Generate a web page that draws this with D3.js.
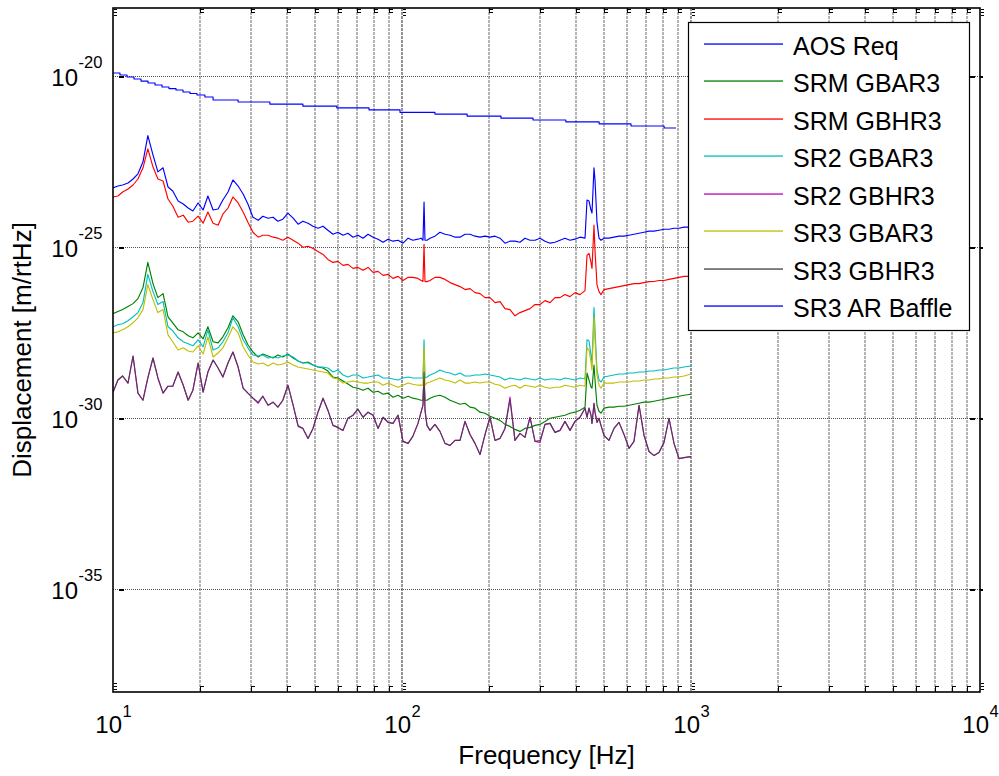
<!DOCTYPE html>
<html>
<head>
<meta charset="utf-8">
<script src="https://cdn.jsdelivr.net/npm/d3@7"></script>
<style>
  html, body { margin: 0; padding: 0; background: #fff; }
  svg { display: block; font-family: "Liberation Sans", Arial, sans-serif; }
</style>
</head>
<body>
<svg id="chart" width="999" height="776"></svg>
<script>
// ---- Data -----------------------------------------------------------------
// Requirement curve (stepped), frequency in Hz
const aosFreq = [10, 10.57, 11.18, 11.82, 12.5, 13.22, 13.98, 14.78, 15.62, 16.52,
  17.47, 18.47, 19.53, 20.8, 22.2, 27.1, 34.9, 45.4, 59.5, 76.9,
  98.4, 130, 168, 220, 284, 369, 481, 620, 807, 888];
const aosReq = [1.26e-20, 1.10e-20, 9.6e-21, 8.4e-21, 7.3e-21, 6.4e-21, 5.6e-21, 4.9e-21, 4.4e-21, 4.0e-21,
  3.5e-21, 3.16e-21, 2.86e-21, 2.5e-21, 2.04e-21, 1.78e-21, 1.55e-21, 1.35e-21, 1.2e-21, 1.05e-21,
  8.9e-22, 7.9e-22, 6.9e-22, 6.0e-22, 5.3e-22, 4.7e-22, 4.1e-22, 3.55e-22, 3.1e-22, 3.1e-22];

// Shared frequency grid (Hz) for the scattered-light spectra
const freq = [
  10.0, 10.4, 10.8, 11.27, 11.73, 12.2, 12.7, 13.2, 13.75, 14.3,
  14.9, 15.5, 16.1, 16.8, 17.5, 18.2, 18.9, 19.7, 20.5, 21.3,
  22.2, 23.1, 24.0, 25.0, 26.0, 27.1, 28.2, 29.3, 30.5, 31.8,
  33.0, 34.4, 35.8, 37.2, 38.7, 40.3, 42.0, 43.7, 45.4, 47.3,
  49.2, 51.2, 53.3, 55.4, 57.7, 60.0, 62.5, 65.0, 67.7, 70.4,
  73.3, 76.3, 79.4, 82.6, 86.0, 89.5, 93.1, 96.9, 100.8, 105,
  109, 113.6, 116.4, 118.2, 119.2, 120.1, 122, 125, 130, 135.3,
  140.9, 146.6, 152.6, 158.8, 165.2, 171.9, 178.9, 186.2, 193.8, 201.6,
  209.8, 218.3, 227.2, 236.4, 246, 256, 266.4, 277.3, 288.6, 300.3,
  312.5, 325.2, 338.4, 352.2, 366.4, 381.3, 396.8, 413, 429.8, 436.7,
  443.7, 450.8, 454.4, 461.7, 465.4, 472.8, 480.4, 488.1, 500, 520,
  541.5, 563.5, 586.4, 610.2, 635, 660.9, 687.8, 715.7, 744.7, 775,
  806.5, 839.3, 873.4, 908.8, 945.8, 1000
];

const srmGbar3 = [
  1.16e-27, 1.33e-27, 1.52e-27, 1.86e-27, 2.27e-27, 3.18e-27, 6.68e-27, 3.64e-26, 8.74e-27, 3.40e-27,
  4.46e-27, 9.35e-28, 6.24e-28, 3.90e-28, 3.40e-28, 2.60e-28, 2.27e-28, 3.18e-28, 2.13e-28, 4.77e-28,
  1.74e-28, 1.62e-28, 2.43e-28, 4.46e-28, 1.0e-27, 6.68e-28, 2.78e-28, 1.42e-28, 8.74e-29, 6.24e-29,
  7.64e-29, 6.68e-29, 5.84e-29, 7.14e-29, 6.24e-29, 7.64e-29, 5.84e-29, 4.77e-29, 4.17e-29, 4.46e-29,
  3.64e-29, 3.18e-29, 2.98e-29, 2.43e-29, 1.62e-29, 1.52e-29, 1.24e-29, 1.01e-29, 8.17e-30, 7.64e-30,
  6.68e-30, 7.64e-30, 5.84e-30, 6.24e-30, 5.10e-30, 5.46e-30, 4.17e-30, 4.77e-30, 3.90e-30, 4.46e-30,
  3.90e-30, 3.64e-30, 3.40e-30, 3.40e-30, 1.74e-29, 3.40e-30, 3.40e-30, 3.90e-30, 4.46e-30, 4.77e-30,
  4.17e-30, 3.40e-30, 2.98e-30, 2.60e-30, 2.78e-30, 2.13e-30, 1.99e-30, 1.52e-30, 1.42e-30, 1.16e-30,
  1.01e-30, 8.74e-31, 6.68e-31, 5.84e-31, 4.77e-31, 4.17e-31, 5.10e-31, 5.46e-31, 6.24e-31, 6.68e-31,
  8.17e-31, 1.01e-30, 1.08e-30, 1.16e-30, 1.24e-30, 1.42e-30, 1.52e-30, 1.74e-30, 2.13e-30, 2.13e-29,
  1.33e-29, 8.17e-30, 7.64e-30, 3.64e-29, 1.33e-29, 2.43e-30, 1.62e-30, 1.42e-30, 1.99e-30, 2.13e-30,
  2.13e-30, 2.27e-30, 2.27e-30, 2.43e-30, 2.60e-30, 2.78e-30, 2.98e-30, 2.98e-30, 3.18e-30, 3.40e-30,
  3.64e-30, 3.90e-30, 4.17e-30, 4.46e-30, 4.77e-30, 5.10e-30
];

const srmGbhr3 = [
  2.98e-24, 3.18e-24, 4.17e-24, 5.10e-24, 6.68e-24, 1.0e-23, 2.13e-23, 7.64e-23, 2.27e-23, 1.0e-23,
  8.74e-24, 2.60e-24, 1.62e-24, 7.64e-25, 8.74e-25, 5.46e-25, 5.84e-25, 8.17e-25, 5.10e-25, 1.08e-24,
  5.10e-25, 4.46e-25, 9.35e-25, 1.42e-24, 2.98e-24, 1.99e-24, 1.08e-24, 5.46e-25, 2.78e-25, 1.99e-25,
  2.27e-25, 2.27e-25, 1.99e-25, 1.86e-25, 1.62e-25, 1.99e-25, 1.62e-25, 1.33e-25, 1.01e-25, 1.08e-25,
  9.35e-26, 7.64e-26, 6.24e-26, 4.46e-26, 3.64e-26, 3.90e-26, 2.98e-26, 3.18e-26, 2.43e-26, 2.60e-26,
  2.13e-26, 2.60e-26, 1.86e-26, 1.99e-26, 1.52e-26, 1.62e-26, 1.24e-26, 1.42e-26, 1.08e-26, 1.33e-26,
  1.33e-26, 1.24e-26, 1.08e-26, 1.01e-26, 1.24e-25, 1.0e-26, 1.0e-26, 1.08e-26, 1.33e-26, 1.33e-26,
  1.16e-26, 9.35e-27, 8.17e-27, 7.14e-27, 5.84e-27, 6.24e-27, 4.77e-27, 4.46e-27, 3.40e-27, 3.40e-27,
  2.43e-27, 2.60e-27, 1.62e-27, 1.52e-27, 1.0e-27, 1.24e-27, 1.42e-27, 1.62e-27, 2.13e-27, 2.13e-27,
  2.78e-27, 2.43e-27, 3.40e-27, 3.40e-27, 4.17e-27, 3.64e-27, 4.77e-27, 4.17e-27, 5.46e-27, 5.84e-26,
  6.68e-26, 3.64e-26, 2.43e-26, 4.46e-25, 8.17e-26, 8.17e-27, 5.10e-27, 4.17e-27, 5.84e-27, 6.24e-27,
  6.68e-27, 7.14e-27, 7.64e-27, 8.17e-27, 8.74e-27, 8.74e-27, 9.35e-27, 1.0e-26, 1.01e-26, 1.08e-26,
  1.08e-26, 1.16e-26, 1.24e-26, 1.33e-26, 1.42e-26, 1.42e-26
];

const sr2Gbar3 = [
  4.77e-28, 5.46e-28, 5.84e-28, 7.14e-28, 9.35e-28, 1.24e-27, 2.43e-27, 1.62e-26, 5.10e-27, 2.13e-27,
  2.60e-27, 4.77e-28, 3.64e-28, 2.27e-28, 1.74e-28, 1.52e-28, 1.33e-28, 1.99e-28, 1.24e-28, 3.90e-28,
  1.0e-28, 1.16e-28, 1.74e-28, 3.18e-28, 8.74e-28, 4.77e-28, 1.99e-28, 1.16e-28, 7.14e-29, 6.68e-29,
  7.14e-29, 5.84e-29, 6.24e-29, 5.84e-29, 6.68e-29, 7.14e-29, 6.24e-29, 4.77e-29, 4.17e-29, 4.17e-29,
  3.64e-29, 3.18e-29, 3.18e-29, 2.98e-29, 2.27e-29, 2.60e-29, 1.86e-29, 1.62e-29, 1.86e-29, 1.86e-29,
  1.52e-29, 1.62e-29, 1.74e-29, 1.86e-29, 1.52e-29, 1.52e-29, 1.42e-29, 1.33e-29, 1.52e-29, 1.62e-29,
  1.52e-29, 1.52e-29, 1.52e-29, 1.52e-29, 1.99e-28, 1.52e-29, 1.62e-29, 1.86e-29, 2.13e-29, 2.60e-29,
  2.27e-29, 2.13e-29, 1.86e-29, 2.13e-29, 1.74e-29, 1.74e-29, 1.86e-29, 1.86e-29, 1.99e-29, 1.86e-29,
  1.74e-29, 1.62e-29, 1.33e-29, 1.52e-29, 1.42e-29, 1.33e-29, 1.52e-29, 1.42e-29, 1.33e-29, 1.52e-29,
  1.33e-29, 1.42e-29, 1.42e-29, 1.33e-29, 1.52e-29, 1.42e-29, 1.33e-29, 1.52e-29, 1.42e-29, 1.99e-28,
  1.86e-28, 7.14e-29, 4.17e-29, 1.74e-27, 3.90e-28, 2.60e-29, 1.33e-29, 1.16e-29, 1.62e-29, 1.74e-29,
  1.86e-29, 1.99e-29, 1.99e-29, 2.13e-29, 2.13e-29, 2.27e-29, 2.27e-29, 2.43e-29, 2.43e-29, 2.60e-29,
  2.60e-29, 2.78e-29, 2.98e-29, 2.98e-29, 3.18e-29, 3.40e-29
];

const sr2Gbhr3 = [
  5.84e-30, 1.33e-29, 1.74e-29, 1.08e-29, 6.68e-29, 5.46e-30, 3.40e-30, 1.52e-29, 5.84e-29, 1.52e-29,
  5.46e-30, 8.74e-30, 8.74e-30, 2.27e-29, 9.35e-30, 3.40e-30, 6.68e-30, 4.17e-29, 5.84e-30, 2.27e-29,
  5.10e-29, 2.98e-29, 1.62e-29, 4.17e-29, 8.74e-29, 3.18e-29, 7.64e-30, 5.46e-30, 3.90e-30, 2.78e-30,
  4.46e-30, 2.43e-30, 2.98e-30, 2.13e-30, 3.40e-30, 9.35e-30, 2.43e-30, 5.84e-31, 5.10e-31, 2.60e-31,
  5.10e-31, 1.52e-30, 3.90e-30, 1.74e-30, 6.24e-31, 5.46e-31, 4.46e-31, 1.01e-30, 1.24e-30, 1.86e-30,
  1.08e-30, 1.52e-30, 1.24e-30, 5.10e-31, 1.08e-30, 7.64e-31, 7.14e-31, 1.24e-30, 2.13e-31, 1.86e-31,
  2.98e-31, 7.14e-31, 1.52e-30, 2.43e-30, 2.27e-29, 1.74e-30, 6.24e-31, 4.46e-31, 6.68e-31, 4.17e-31,
  1.86e-31, 1.62e-31, 2.27e-31, 2.27e-31, 8.17e-31, 3.40e-31, 1.86e-31, 8.74e-32, 3.40e-31, 1.08e-30,
  2.27e-31, 2.60e-31, 5.10e-31, 4.17e-30, 2.27e-31, 3.64e-31, 2.78e-31, 1.08e-30, 2.13e-31, 1.99e-31,
  6.68e-31, 7.14e-31, 3.90e-31, 4.46e-31, 8.17e-31, 4.46e-31, 8.17e-31, 1.08e-30, 1.99e-30, 1.08e-30,
  1.99e-30, 1.24e-30, 7.14e-31, 2.78e-30, 1.52e-30, 7.64e-31, 1.01e-30, 6.24e-31, 3.18e-31, 2.27e-31,
  5.10e-31, 7.64e-31, 3.40e-31, 1.33e-31, 2.13e-31, 2.43e-30, 3.18e-31, 1.08e-31, 8.17e-32, 1.01e-31,
  1.99e-31, 1.01e-30, 1.86e-31, 6.68e-32, 7.14e-32, 7.64e-32
];

const sr3Gbar3 = [
  3.18e-28, 3.40e-28, 3.90e-28, 4.77e-28, 6.24e-28, 8.74e-28, 1.52e-27, 8.17e-27, 2.98e-27, 1.24e-27,
  1.52e-27, 2.78e-28, 1.74e-28, 1.0e-28, 1.16e-28, 9.35e-29, 8.74e-29, 1.33e-28, 7.64e-29, 2.43e-28,
  6.24e-29, 8.17e-29, 1.16e-28, 2.27e-28, 4.77e-28, 3.18e-28, 1.24e-28, 7.14e-29, 4.46e-29, 3.90e-29,
  4.17e-29, 3.40e-29, 4.17e-29, 3.64e-29, 3.90e-29, 4.46e-29, 3.64e-29, 3.18e-29, 2.98e-29, 2.78e-29,
  2.60e-29, 2.43e-29, 2.27e-29, 2.13e-29, 1.52e-29, 1.42e-29, 1.08e-29, 1.16e-29, 1.24e-29, 1.16e-29,
  1.08e-29, 1.08e-29, 1.16e-29, 1.16e-29, 9.35e-30, 1.08e-29, 9.35e-30, 8.17e-30, 9.35e-30, 1.08e-29,
  1.0e-29, 9.35e-30, 9.35e-30, 9.35e-30, 1.24e-28, 9.35e-30, 1.08e-29, 1.16e-29, 1.33e-29, 1.52e-29,
  1.33e-29, 1.24e-29, 1.08e-29, 1.33e-29, 1.08e-29, 1.08e-29, 1.16e-29, 1.08e-29, 1.16e-29, 1.16e-29,
  1.0e-29, 9.35e-30, 7.64e-30, 8.74e-30, 9.35e-30, 7.64e-30, 9.35e-30, 8.74e-30, 8.17e-30, 9.35e-30,
  8.17e-30, 7.64e-30, 8.17e-30, 8.17e-30, 9.35e-30, 8.74e-30, 8.17e-30, 9.35e-30, 8.74e-30, 1.16e-28,
  1.0e-28, 4.46e-29, 2.60e-29, 9.35e-28, 1.99e-28, 1.86e-29, 9.35e-30, 7.64e-30, 1.08e-29, 1.08e-29,
  1.08e-29, 1.16e-29, 1.16e-29, 1.16e-29, 1.24e-29, 1.24e-29, 1.33e-29, 1.33e-29, 1.42e-29, 1.42e-29,
  1.52e-29, 1.52e-29, 1.62e-29, 1.62e-29, 1.74e-29, 1.99e-29
];

const sr3Gbhr3 = [
  5.84e-30, 1.33e-29, 1.74e-29, 1.08e-29, 6.68e-29, 5.46e-30, 3.40e-30, 1.52e-29, 5.84e-29, 1.52e-29,
  5.46e-30, 8.74e-30, 8.74e-30, 2.27e-29, 9.35e-30, 3.40e-30, 6.68e-30, 4.17e-29, 5.84e-30, 2.27e-29,
  5.10e-29, 2.98e-29, 1.62e-29, 4.17e-29, 8.74e-29, 3.18e-29, 7.64e-30, 5.46e-30, 3.90e-30, 2.98e-30,
  4.46e-30, 2.43e-30, 2.98e-30, 2.13e-30, 3.40e-30, 9.35e-30, 2.43e-30, 6.24e-31, 5.10e-31, 2.60e-31,
  5.10e-31, 1.52e-30, 3.90e-30, 1.74e-30, 6.24e-31, 5.46e-31, 4.46e-31, 1.01e-30, 1.24e-30, 1.86e-30,
  1.08e-30, 1.52e-30, 1.24e-30, 5.10e-31, 1.08e-30, 7.64e-31, 7.14e-31, 1.24e-30, 2.13e-31, 1.86e-31,
  2.98e-31, 7.14e-31, 1.52e-30, 2.43e-30, 2.27e-29, 1.74e-30, 6.24e-31, 4.46e-31, 6.68e-31, 4.17e-31,
  1.86e-31, 1.62e-31, 2.27e-31, 2.27e-31, 8.17e-31, 3.40e-31, 1.86e-31, 8.74e-32, 3.40e-31, 1.08e-30,
  2.27e-31, 2.60e-31, 5.10e-31, 3.40e-30, 2.27e-31, 3.64e-31, 2.78e-31, 1.08e-30, 2.13e-31, 2.27e-31,
  6.68e-31, 7.14e-31, 3.90e-31, 4.46e-31, 8.17e-31, 4.46e-31, 8.17e-31, 1.08e-30, 1.99e-30, 1.08e-30,
  1.99e-30, 1.24e-30, 7.14e-31, 2.78e-30, 1.52e-30, 7.64e-31, 1.01e-30, 6.24e-31, 3.18e-31, 2.27e-31,
  5.10e-31, 7.64e-31, 3.40e-31, 1.33e-31, 2.13e-31, 2.43e-30, 3.18e-31, 1.08e-31, 8.17e-32, 1.01e-31,
  1.99e-31, 1.01e-30, 1.86e-31, 6.68e-32, 7.14e-32, 7.64e-32
];

const sr3ArBaffle = [
  5.46e-24, 6.24e-24, 6.68e-24, 7.64e-24, 1.0e-23, 1.42e-23, 3.18e-23, 1.86e-22, 5.10e-23, 1.62e-23,
  2.13e-23, 5.84e-24, 4.46e-24, 2.27e-24, 1.86e-24, 1.42e-24, 1.16e-24, 1.99e-24, 1.24e-24, 3.18e-24,
  1.24e-24, 1.33e-24, 2.43e-24, 4.17e-24, 9.35e-24, 6.24e-24, 3.64e-24, 1.86e-24, 7.64e-25, 6.24e-25,
  8.17e-25, 7.14e-25, 7.64e-25, 5.84e-25, 6.68e-25, 1.01e-24, 7.14e-25, 4.77e-25, 5.84e-25, 5.10e-25,
  4.17e-25, 3.64e-25, 4.17e-25, 3.18e-25, 2.43e-25, 2.78e-25, 2.27e-25, 2.60e-25, 1.99e-25, 2.27e-25,
  1.86e-25, 2.43e-25, 1.99e-25, 1.74e-25, 1.42e-25, 1.74e-25, 1.52e-25, 1.62e-25, 1.33e-25, 1.86e-25,
  1.62e-25, 1.74e-25, 1.86e-25, 1.62e-25, 2.13e-24, 1.62e-25, 1.62e-25, 1.86e-25, 2.13e-25, 2.78e-25,
  2.43e-25, 2.27e-25, 1.99e-25, 1.99e-25, 2.43e-25, 2.43e-25, 2.13e-25, 1.99e-25, 2.13e-25, 1.99e-25,
  2.13e-25, 1.86e-25, 1.33e-25, 1.52e-25, 1.52e-25, 1.42e-25, 1.86e-25, 1.62e-25, 1.62e-25, 1.86e-25,
  1.52e-25, 1.33e-25, 1.42e-25, 1.62e-25, 1.86e-25, 1.62e-25, 1.74e-25, 1.99e-25, 1.86e-25, 2.43e-24,
  2.27e-24, 1.24e-24, 1.01e-24, 2.13e-23, 9.35e-24, 5.46e-25, 1.86e-25, 1.62e-25, 1.86e-25, 1.86e-25,
  1.99e-25, 2.13e-25, 2.13e-25, 2.27e-25, 2.43e-25, 2.60e-25, 2.78e-25, 2.98e-25, 2.98e-25, 3.18e-25,
  3.40e-25, 3.40e-25, 3.64e-25, 3.64e-25, 3.90e-25, 3.90e-25
];

// Axis ticks
const xMajor = [10, 100, 1000, 10000];
const xTickExp = ["1", "2", "3", "4"];
const yMajor = [1e-35, 1e-30, 1e-25, 1e-20];
const yTickExp = ["-35", "-30", "-25", "-20"];

const legendNames = ["AOS Req", "SRM GBAR3", "SRM GBHR3", "SR2 GBAR3",
  "SR2 GBHR3", "SR3 GBAR3", "SR3 GBHR3", "SR3 AR Baffle"];

// ---- Layout & scales ------------------------------------------------------
const plot = { left: 113, right: 980, top: 8, bottom: 692 };
const x = d3.scaleLog().domain([10, 1e4]).range([plot.left, plot.right]);
const y = d3.scaleLog().domain([1e-38, 1e-18]).range([plot.bottom, plot.top]);

const series = [
  { name: legendNames[0], f: aosFreq, v: aosReq, color: "#0000ff", curve: d3.curveStepAfter },
  { name: legendNames[1], f: freq, v: srmGbar3, color: "#008000" },
  { name: legendNames[2], f: freq, v: srmGbhr3, color: "#ff0000" },
  { name: legendNames[3], f: freq, v: sr2Gbar3, color: "#00bfbf" },
  { name: legendNames[4], f: freq, v: sr2Gbhr3, color: "#bf00bf" },
  { name: legendNames[5], f: freq, v: sr3Gbar3, color: "#bfbf00" },
  { name: legendNames[6], f: freq, v: sr3Gbhr3, color: "#404040", opacity: 0.78 },
  { name: legendNames[7], f: freq, v: sr3ArBaffle, color: "#0000ff" }
];

const svg = d3.select("#chart");
svg.append("rect").attr("width", 999).attr("height", 776).attr("fill", "#fff");

// Minor log positions between the decades
const xMinor = [];
xMajor.slice(0, -1).forEach(d => { for (let k = 2; k <= 9; k++) xMinor.push(k * d); });

// ---- Grid -----------------------------------------------------------------
const grid = svg.append("g");
grid.selectAll("line.vg").data(xMinor).join("line")
  .attr("x1", d => Math.round(x(d))).attr("x2", d => Math.round(x(d)))
  .attr("y1", plot.top).attr("y2", plot.bottom)
  .attr("stroke", "#a2a2a2").attr("stroke-width", 1.6).attr("stroke-dasharray", "3,1");
grid.selectAll("line.vmaj").data(xMajor.slice(1, -1)).join("line")
  .attr("x1", d => Math.round(x(d))).attr("x2", d => Math.round(x(d)))
  .attr("y1", plot.top).attr("y2", plot.bottom)
  .attr("stroke", "#7a7a7a").attr("stroke-width", 1.6).attr("stroke-dasharray", "3,1");
grid.selectAll("line.hg").data(yMajor).join("line")
  .attr("shape-rendering", "crispEdges")
  .attr("x1", plot.left).attr("x2", plot.right)
  .attr("y1", d => Math.round(y(d)) + 0.5).attr("y2", d => Math.round(y(d)) + 0.5)
  .attr("stroke", "#505050").attr("stroke-width", 1).attr("stroke-dasharray", "1,1");

// ---- Tick marks -----------------------------------------------------------
const ticks = svg.append("g").attr("stroke", "#000").attr("stroke-width", 1)
  .attr("shape-rendering", "crispEdges");
xMinor.forEach(d => {
  const px = Math.round(x(d)) + 0.5;
  ticks.append("line").attr("x1", px).attr("x2", px).attr("y1", plot.bottom - 6).attr("y2", plot.bottom);
  ticks.append("line").attr("x1", px).attr("x2", px + 3).attr("y1", plot.bottom - 5.5).attr("y2", plot.bottom - 5.5);
  ticks.append("line").attr("x1", px).attr("x2", px).attr("y1", plot.top).attr("y2", plot.top + 5);
  ticks.append("line").attr("x1", px).attr("x2", px + 3).attr("y1", plot.top + 1.5).attr("y2", plot.top + 1.5);
  ticks.append("line").attr("x1", px).attr("x2", px + 3).attr("y1", plot.top + 4.5).attr("y2", plot.top + 4.5);
});
xMajor.forEach(d => {
  const px = Math.round(x(d)) + 0.5;
  [2.5, 5.5, 8.5].forEach(o => {
    ticks.append("line").attr("x1", px).attr("x2", px + 3).attr("y1", plot.bottom - o).attr("y2", plot.bottom - o);
    ticks.append("line").attr("x1", px).attr("x2", px + 3).attr("y1", plot.top + o - 1).attr("y2", plot.top + o - 1);
  });
});
yMajor.forEach(d => {
  const py = Math.round(y(d)) + 0.5;
  ticks.append("line").attr("x1", plot.left + 6).attr("x2", plot.left + 11).attr("y1", py).attr("y2", py)
    .attr("stroke-width", 2);
  ticks.append("line").attr("x1", plot.right - 10).attr("x2", plot.right - 5).attr("y1", py).attr("y2", py)
    .attr("stroke-width", 2);
  ticks.append("line").attr("x1", plot.right).attr("x2", plot.right + 3).attr("y1", py).attr("y2", py)
    .attr("stroke-width", 2);
});

// ---- Series ---------------------------------------------------------------
svg.append("clipPath").attr("id", "plotClip").append("rect")
  .attr("x", plot.left).attr("y", plot.top)
  .attr("width", plot.right - plot.left).attr("height", plot.bottom - plot.top);

const gLines = svg.append("g").attr("clip-path", "url(#plotClip)");
series.forEach(s => {
  const line = d3.line().x(d => x(d[0])).y(d => y(d[1])).curve(s.curve || d3.curveLinear);
  gLines.append("path")
    .datum(d3.zip(s.f, s.v))
    .attr("fill", "none")
    .attr("stroke", s.color)
    .attr("stroke-opacity", s.opacity || 1)
    .attr("stroke-width", 1.15)
    .attr("stroke-linejoin", "round")
    .attr("d", line);
});

// ---- Axes box -------------------------------------------------------------
svg.append("rect")
  .attr("x", plot.left).attr("y", plot.top)
  .attr("width", plot.right - plot.left).attr("height", plot.bottom - plot.top)
  .attr("fill", "none").attr("stroke", "#000").attr("stroke-width", 1.6);

// ---- Tick labels (10^n) ---------------------------------------------------
const labels = svg.append("g").attr("fill", "#000");
yMajor.forEach((d, i) => {
  const py = y(d);
  labels.append("text").attr("x", 78).attr("y", py + 9.6)
    .attr("text-anchor", "end").attr("font-size", 24).text("10");
  labels.append("text").attr("x", 78.5).attr("y", py - 8.6)
    .attr("text-anchor", "start").attr("font-size", 16.5).text(yTickExp[i]);
});
xMajor.forEach((d, i) => {
  const px = x(d);
  labels.append("text").attr("x", px + 9).attr("y", 733.3)
    .attr("text-anchor", "end").attr("font-size", 24).text("10");
  labels.append("text").attr("x", px + 9.5).attr("y", 716.5)
    .attr("text-anchor", "start").attr("font-size", 16.5).text(xTickExp[i]);
});

// ---- Axis titles ----------------------------------------------------------
svg.append("text")
  .attr("x", (plot.left + plot.right) / 2).attr("y", 764)
  .attr("text-anchor", "middle").attr("font-size", 26)
  .text("Frequency [Hz]");
svg.append("text")
  .attr("transform", `translate(31,${(plot.top + plot.bottom) / 2}) rotate(-90)`)
  .attr("text-anchor", "middle").attr("font-size", 26)
  .text("Displacement [m/rtHz]");

// ---- Legend ---------------------------------------------------------------
const legend = svg.append("g");
legend.append("rect")
  .attr("x", 688.5).attr("y", 22.5).attr("width", 281).attr("height", 308)
  .attr("fill", "#fff").attr("stroke", "#000").attr("stroke-width", 1.2);
const rowY = d3.scaleLinear().domain([0, series.length - 1]).range([44, 306]);
series.forEach((s, i) => {
  const ly = Math.round(rowY(i));
  legend.append("rect").attr("x", 704).attr("y", ly - 0.6).attr("width", 79).attr("height", 1.3)
    .attr("fill", s.color);
  legend.append("text").attr("x", 793).attr("y", ly + 11)
    .attr("font-size", 25).attr("fill", "#000").text(s.name);
});
</script>
</body>
</html>
